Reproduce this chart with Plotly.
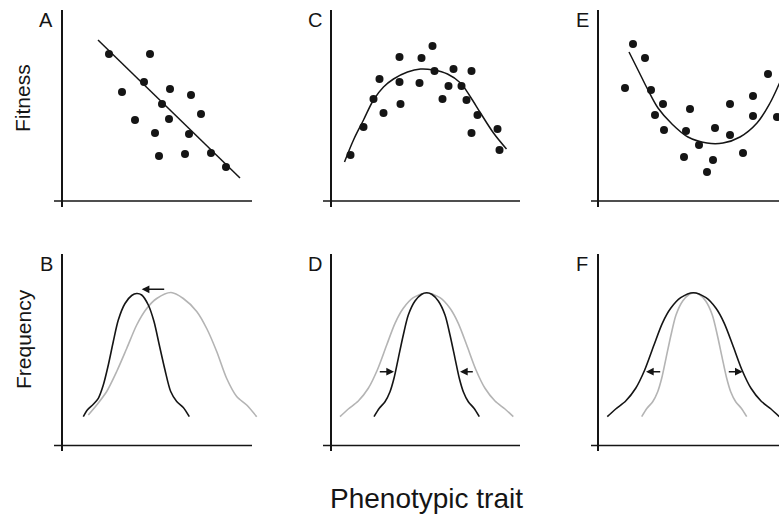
import plotly.graph_objects as go

W, H = 779, 517

# ---------------- data (trait units, fitness / frequency units) ----------------
# Panel A - directional selection: individual fitness vs trait
a_trait = [4.7, 8.8, 8.2, 6.0, 10.8, 12.9, 10.0, 10.7, 13.9, 7.3, 9.3, 12.7, 9.7, 12.3, 14.9, 16.4]
a_fitness = [14.7, 14.7, 11.9, 10.9, 11.2, 10.6, 9.7, 8.2, 8.7, 8.1, 6.8, 6.7, 4.5, 4.7, 4.8, 3.4]
a_fit_trait = [3.6, 17.8]
a_fit_value = [16.1, 2.3]

# Panel C - stabilizing selection
c_trait = [2.0, 3.3, 4.3, 4.9, 5.3, 6.9, 6.9, 7.0, 8.9, 9.1, 10.2, 10.4, 11.2, 11.8,
           12.3, 13.1, 13.6, 14.1, 14.7, 14.1, 16.7, 16.9]
c_fitness = [4.6, 7.4, 10.2, 12.2, 8.8, 14.4, 11.9, 9.7, 11.8, 14.3, 15.5, 13.0, 10.2, 11.5,
             13.2, 11.5, 10.1, 13.0, 8.6, 6.8, 7.2, 5.1]
c_fit_trait = [1.4, 2.3, 3.3, 4.3, 5.3, 6.3, 7.7, 9.0, 10.3, 11.7, 13.0, 14.0, 15.0, 16.3, 17.6]
c_fit_value = [3.9, 6.1, 8.1, 10.1, 11.4, 12.2, 12.9, 13.2, 13.1, 12.7, 11.8, 10.4, 8.8, 6.8, 5.2]

# Panel E - disruptive selection
e_trait = [3.5, 4.7, 2.7, 5.3, 6.5, 5.7, 6.6, 9.2, 8.8, 10.1, 8.6, 11.7, 11.5, 10.9,
           13.2, 13.2, 14.5, 15.5, 15.5, 17.0, 17.9, 18.5]
e_fitness = [15.7, 14.3, 11.3, 11.1, 9.7, 8.6, 7.1, 9.2, 7.0, 5.6, 4.4, 7.3, 4.1, 2.9,
             9.7, 6.6, 4.8, 10.5, 8.5, 12.7, 8.4, 14.1]
e_fit_trait = [3.1, 4.0, 5.0, 6.0, 7.4, 9.0, 10.9, 12.5, 14.2, 15.9, 17.2, 18.2, 19.2]
e_fit_value = [14.9, 13.1, 11.1, 9.3, 7.7, 6.4, 5.8, 5.8, 6.4, 7.8, 9.8, 11.9, 14.1]

# Panel B - trait distributions before (grey) and after (black) selection
b_after_trait = [2.13, 2.53, 3.13, 3.63, 4.13, 4.63, 5.13, 5.63, 6.3, 6.97, 7.47, 7.97,
                 8.63, 9.2, 9.73, 10.3, 10.87, 11.47, 12.13, 12.73]
b_after_freq = [2.88, 3.55, 4.12, 4.72, 6.05, 8.05, 10.4, 12.55, 14.2, 15.0, 15.2, 15.05,
                14.05, 12.4, 10.05, 7.55, 5.4, 4.4, 3.8, 2.88]
b_before_trait = [2.63, 3.47, 4.47, 5.47, 6.47, 7.47, 8.47, 9.47, 10.9, 12.13, 13.47,
                  14.47, 15.47, 16.47, 17.47, 18.47, 19.47]
b_before_freq = [3.05, 4.05, 5.4, 7.4, 9.7, 12.05, 13.7, 14.7, 15.3, 14.7, 13.4,
                 11.7, 9.4, 6.7, 4.9, 4.05, 2.88]

# Panel D
d_after_trait = [4.35, 4.88, 5.45, 5.95, 6.35, 6.78, 7.28, 7.78, 8.45, 9.12, 9.62, 10.12,
                 10.78, 11.45, 11.95, 12.45, 12.88, 13.28, 13.78, 14.35, 14.88]
d_after_freq = [2.88, 3.72, 4.38, 5.38, 6.72, 8.72, 11.05, 13.05, 14.45, 15.12, 15.28, 15.12,
                14.45, 13.05, 11.05, 8.72, 6.72, 5.38, 4.38, 3.72, 2.88]
d_before_trait = [0.95, 1.78, 2.78, 3.78, 4.68, 5.62, 6.45, 7.28, 8.28, 9.62, 10.95, 11.95,
                  12.78, 13.62, 14.55, 15.45, 16.45, 17.45, 18.28]
d_before_freq = [2.88, 3.65, 4.45, 5.72, 7.55, 10.05, 12.22, 13.72, 14.78, 15.28, 14.78, 13.72,
                 12.22, 10.05, 7.55, 5.72, 4.45, 3.65, 2.88]

# Panel F
f_after_trait = [0.93, 1.77, 2.77, 3.77, 4.67, 5.6, 6.43, 7.27, 8.27, 9.53, 10.8, 11.8,
                 12.63, 13.47, 14.4, 15.3, 16.3, 17.3, 18.13]
f_after_freq = [2.88, 3.65, 4.45, 5.72, 7.55, 10.05, 12.22, 13.72, 14.78, 15.28, 14.78, 13.72,
                12.22, 10.05, 7.55, 5.72, 4.45, 3.65, 2.88]
f_before_trait = [4.37, 4.9, 5.47, 5.97, 6.37, 6.8, 7.3, 7.8, 8.47, 9.13, 9.6, 10.1, 10.77,
                  11.43, 11.93, 12.43, 12.87, 13.27, 13.77, 14.33, 14.87]
f_before_freq = [2.88, 3.72, 4.38, 5.38, 6.72, 8.72, 11.05, 13.05, 14.45, 15.12, 15.28, 15.12,
                 14.45, 13.05, 11.05, 8.72, 6.72, 5.38, 4.38, 3.72, 2.88]

# Arrows: (tail_x, tip_x, y)
b_arrows = [(10.37, 7.97, 15.62)]
d_arrows = [(4.78, 6.35, 7.38), (14.38, 12.95, 7.38)]
f_arrows = [(6.37, 4.8, 7.38), (12.93, 14.47, 7.38)]

panel_letters = ["A", "C", "E", "B", "D", "F"]
y_titles = ["Fitness", "Frequency"]
x_title = "Phenotypic trait"

# ---------------- layout geometry (pixels) ----------------
rows = [dict(top=10, bottom=207, zero=201),
        dict(top=254, bottom=451, zero=445.5)]
cols = [dict(left=54, yaxis=62, end=252, right=[252, 260]),
        dict(left=323, yaxis=330.5, end=520, right=[520, 520]),
        dict(left=591, yaxis=598, end=779, right=[779, 779])]

BLACK = "#151515"
GREY = "#b4b4b4"
FONT = "Liberation Sans, Arial, Helvetica, sans-serif"

fig = go.Figure()

def ax_id(i):
    return "" if i == 1 else str(i)

scatter_sets = [(a_trait, a_fitness, a_fit_trait, a_fit_value),
                (c_trait, c_fitness, c_fit_trait, c_fit_value),
                (e_trait, e_fitness, e_fit_trait, e_fit_value)]
dist_sets = [(b_before_trait, b_before_freq, b_after_trait, b_after_freq, b_arrows),
             (d_before_trait, d_before_freq, d_after_trait, d_after_freq, d_arrows),
             (f_before_trait, f_before_freq, f_after_trait, f_after_freq, f_arrows)]

annotations = []
shapes = []
layout_axes = {}

for r, row in enumerate(rows):
    for c, col in enumerate(cols):
        i = r * 3 + c + 1
        xa, ya = "x" + ax_id(i), "y" + ax_id(i)
        right = col["right"][r]
        xr = [(col["left"] - col["yaxis"]) / 10, (right - col["yaxis"]) / 10]
        yr = [(row["zero"] - row["bottom"]) / 10, (row["zero"] - row["top"]) / 10]
        layout_axes["xaxis" + ax_id(i)] = dict(
            domain=[col["left"] / W, right / W], range=xr, anchor=ya,
            showgrid=False, zeroline=True, zerolinecolor=BLACK, zerolinewidth=1.5,
            showticklabels=False, ticks="", showline=False, fixedrange=True)
        layout_axes["yaxis" + ax_id(i)] = dict(
            domain=[1 - row["bottom"] / H, 1 - row["top"] / H], range=yr, anchor=xa,
            showgrid=False, zeroline=False, showticklabels=False, ticks="",
            showline=False, fixedrange=True)
        # horizontal axis line
        shapes.append(dict(type="line", xref=xa, yref=ya, x0=xr[0],
                           x1=(col["end"] - col["yaxis"]) / 10, y0=0, y1=0,
                           line=dict(color=BLACK, width=1.5), layer="above"))
        # panel letter
        annotations.append(dict(text=panel_letters[i - 1], xref="paper", yref="paper",
                                x=(col["yaxis"] - 16) / W, y=1 - (row["top"] + 10) / H,
                                xanchor="center", yanchor="middle", showarrow=False,
                                font=dict(family=FONT, size=20, color=BLACK)))
        if r == 0:
            tx, ty, fx, fy = scatter_sets[c]
            fig.add_trace(go.Scatter(x=fx, y=fy, mode="lines", xaxis=xa, yaxis=ya,
                                     line=dict(color=BLACK, width=1.5, shape="spline",
                                               smoothing=1.0),
                                     showlegend=False, hoverinfo="skip"))
            fig.add_trace(go.Scatter(x=tx, y=ty, mode="markers", xaxis=xa, yaxis=ya,
                                     marker=dict(color=BLACK, size=8),
                                     showlegend=False))
        else:
            bx, by, ax_, ay_, arrows = dist_sets[c]
            fig.add_trace(go.Scatter(x=bx, y=by, mode="lines", xaxis=xa, yaxis=ya,
                                     line=dict(color=GREY, width=1.6, shape="spline",
                                               smoothing=0.8),
                                     showlegend=False, hoverinfo="skip"))
            fig.add_trace(go.Scatter(x=ax_, y=ay_, mode="lines", xaxis=xa, yaxis=ya,
                                     line=dict(color=BLACK, width=1.6, shape="spline",
                                               smoothing=0.8),
                                     showlegend=False, hoverinfo="skip"))
            for tail, tip, yv in arrows:
                annotations.append(dict(x=tip, y=yv, ax=tail, ay=yv, xref=xa, yref=ya,
                                        axref=xa, ayref=ya, text="", showarrow=True,
                                        arrowhead=2, arrowsize=1.1, arrowwidth=1.4,
                                        arrowcolor=BLACK))

annotations.append(dict(text=y_titles[0], xref="paper", yref="paper", x=22 / W, y=1 - 98 / H,
                        textangle=-90, showarrow=False, xanchor="center", yanchor="middle",
                        font=dict(family=FONT, size=21, color=BLACK)))
annotations.append(dict(text=y_titles[1], xref="paper", yref="paper", x=23 / W, y=1 - 339 / H,
                        textangle=-90, showarrow=False, xanchor="center", yanchor="middle",
                        font=dict(family=FONT, size=21, color=BLACK)))
annotations.append(dict(text=x_title, xref="paper", yref="paper", x=426 / W, y=1 - 498 / H,
                        showarrow=False, xanchor="center", yanchor="middle",
                        font=dict(family=FONT, size=28, color=BLACK)))

fig.update_layout(width=W, height=H, margin=dict(l=0, r=0, t=0, b=0),
                  paper_bgcolor="white", plot_bgcolor="rgba(0,0,0,0)",
                  annotations=annotations, shapes=shapes, **layout_axes)

fig.write_html("out.html", config={"displayModeBar": False},
               post_script="document.body.style.margin='0';document.body.style.overflow='hidden';")
